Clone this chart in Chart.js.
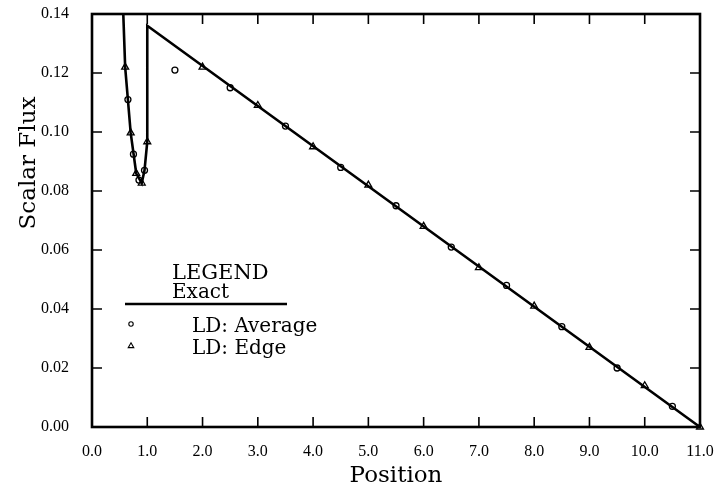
<!DOCTYPE html>
<html>
<head>
<meta charset="utf-8">
<script src="https://cdn.jsdelivr.net/npm/chart.js@4.4.1/dist/chart.umd.min.js"></script>
<style>
  html, body { margin: 0; padding: 0; background: #fff; }
  #wrap { width: 722px; height: 488px; }
</style>
</head>
<body>
<div id="wrap"><canvas id="fluxChart" width="722" height="488"></canvas></div>
<script>
// exact solution (line), values above 0.14 are cut off by the frame
const exactX = [0.5, 0.6, 0.7, 0.8, 0.9, 0.95, 1.0, 1.0, 11.0];
const exactY = [0.175, 0.122, 0.0997, 0.086, 0.0827, 0.087, 0.0967, 0.136, 0.0];

// LD cell averages (circles)
const avgX = [0.65, 0.75, 0.85, 0.95, 1.5, 2.5, 3.5, 4.5, 5.5, 6.5, 7.5, 8.5, 9.5, 10.5];
const avgY = [0.111, 0.0925, 0.0837, 0.087, 0.121, 0.115, 0.102, 0.088, 0.075, 0.061, 0.048, 0.034, 0.020, 0.007];

// LD cell edges (triangles)
const edgeX = [0.6, 0.7, 0.8, 0.9, 1.0, 2, 3, 4, 5, 6, 7, 8, 9, 10, 11];
const edgeY = [0.122, 0.0997, 0.086, 0.0827, 0.0967, 0.122, 0.109, 0.095, 0.082, 0.068, 0.054, 0.041, 0.027, 0.014, 0.0];

const seriesLabels = ['Exact', 'LD: Average', 'LD: Edge'];
const xTicks = [0, 1, 2, 3, 4, 5, 6, 7, 8, 9, 10, 11];
const yTicks = [0, 0.02, 0.04, 0.06, 0.08, 0.10, 0.12, 0.14];

const SERIF = '"DejaVu Serif", serif';
const TICK_FONT = '"Liberation Serif", serif';

function toPoints(xs, ys) {
  return xs.map((x, i) => ({ x: x, y: ys[i] }));
}

// keep the plot box where layout.padding puts it
function noLabelPadding(scale) {
  scale.paddingTop = 0;
  scale.paddingBottom = 0;
  scale.paddingLeft = 0;
  scale.paddingRight = 0;
}

// box frame, inward ticks on all four sides, y title and the legend block
const framePlugin = {
  id: 'frame',
  afterDraw(chart) {
    const ctx = chart.ctx;
    const a = chart.chartArea;
    const xs = chart.scales.x;
    const ys = chart.scales.y;
    const tl = 10;
    ctx.save();
    ctx.strokeStyle = '#000';
    ctx.lineWidth = 1.6;
    ctx.beginPath();
    xTicks.forEach(v => {
      const px = xs.getPixelForValue(v);
      ctx.moveTo(px, a.bottom); ctx.lineTo(px, a.bottom - tl);
      ctx.moveTo(px, a.top); ctx.lineTo(px, a.top + tl);
    });
    yTicks.forEach(v => {
      const py = ys.getPixelForValue(v);
      ctx.moveTo(a.left, py); ctx.lineTo(a.left + tl, py);
      ctx.moveTo(a.right, py); ctx.lineTo(a.right - tl, py);
    });
    ctx.stroke();
    ctx.lineWidth = 2.6;
    ctx.strokeRect(a.left, a.top, a.right - a.left, a.bottom - a.top);

    // y axis title
    ctx.fillStyle = '#000';
    ctx.font = '23px ' + SERIF;
    ctx.textAlign = 'center';
    ctx.textBaseline = 'middle';
    ctx.save();
    ctx.translate(29, 163);
    ctx.rotate(-Math.PI / 2);
    ctx.fillText('Scalar Flux', 0, 0);
    ctx.restore();

    // legend
    const ds = chart.data.datasets;
    ctx.textAlign = 'left';
    ctx.textBaseline = 'alphabetic';
    ctx.font = '21px ' + SERIF;
    ctx.fillText('LEGEND', 172, 279);
    ctx.font = '20px ' + SERIF;
    ctx.fillText(ds[0].label, 172, 298);
    ctx.lineWidth = ds[0].borderWidth;
    ctx.beginPath();
    ctx.moveTo(125, 304);
    ctx.lineTo(287, 304);
    ctx.stroke();
    [1, 2].forEach((i, k) => {
      const y = 324 + k * 22;
      ctx.save();
      ctx.fillStyle = 'rgba(0,0,0,0)';
      ctx.lineWidth = 1.1;
      Chart.helpers.drawPoint(ctx, {
        pointStyle: ds[i].pointStyle,
        radius: ds[i].pointRadius - 0.8,
        borderWidth: 1.1
      }, 131, y);
      ctx.restore();
      ctx.fillText(ds[i].label, 192, y + 8);
    });
    ctx.restore();
  }
};

const ctx = document.getElementById('fluxChart').getContext('2d');
new Chart(ctx, {
  type: 'scatter',
  data: {
    datasets: [
      {
        label: seriesLabels[0],
        data: toPoints(exactX, exactY),
        showLine: true,
        borderColor: '#000',
        borderWidth: 2.6,
        pointRadius: 0,
        tension: 0
      },
      {
        label: seriesLabels[1],
        data: toPoints(avgX, avgY),
        pointStyle: 'circle',
        pointRadius: 3,
        borderColor: '#000',
        borderWidth: 1.3,
        backgroundColor: 'rgba(0,0,0,0)',
        clip: false
      },
      {
        label: seriesLabels[2],
        data: toPoints(edgeX, edgeY),
        pointStyle: 'triangle',
        pointRadius: 4,
        borderColor: '#000',
        borderWidth: 1.3,
        backgroundColor: 'rgba(0,0,0,0)',
        clip: false
      }
    ]
  },
  options: {
    responsive: false,
    animation: false,
    layout: { autoPadding: false, padding: { left: 0, right: 22, top: 14, bottom: 0 } },
    plugins: {
      legend: { display: false },
      tooltip: { enabled: false }
    },
    scales: {
      x: {
        type: 'linear',
        min: 0,
        max: 11,
        grid: { display: false, drawTicks: false },
        border: { display: false },
        afterFit: (scale) => { scale.height = 61; noLabelPadding(scale); },
        afterBuildTicks: (scale) => { scale.ticks = xTicks.map(v => ({ value: v })); },
        ticks: {
          padding: 15,
          color: '#000',
          font: { family: TICK_FONT, size: 16 },
          maxRotation: 0,
          callback: (v) => Number(v).toFixed(1)
        },
        title: {
          display: true,
          text: 'Position',
          color: '#000',
          font: { family: SERIF, size: 23, lineHeight: 1 },
          padding: { top: 0, bottom: 0 }
        }
      },
      y: {
        type: 'linear',
        min: 0,
        max: 0.14,
        grid: { display: false, drawTicks: false },
        border: { display: false },
        afterFit: (scale) => { scale.width = 92; noLabelPadding(scale); },
        afterBuildTicks: (scale) => { scale.ticks = yTicks.map(v => ({ value: v })); },
        ticks: {
          padding: 23,
          color: '#000',
          font: { family: TICK_FONT, size: 16 },
          callback: (v) => Number(v).toFixed(2)
        }
      }
    }
  },
  plugins: [framePlugin]
});
</script>
</body>
</html>
